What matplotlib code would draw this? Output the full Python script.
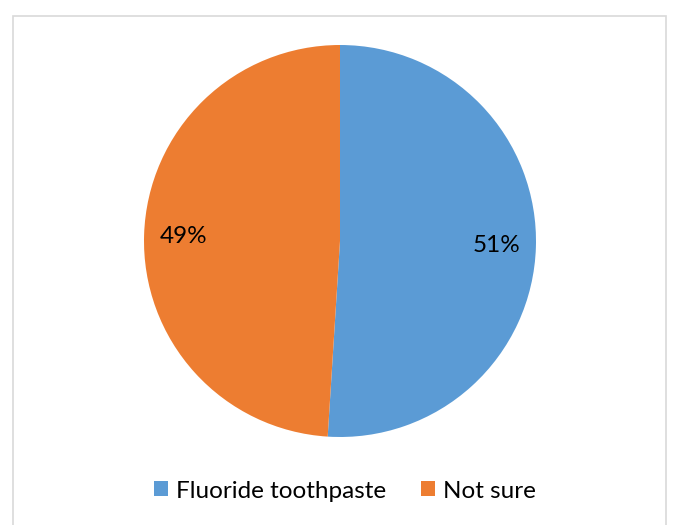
import matplotlib
matplotlib.use("Agg")
import matplotlib.pyplot as plt
from matplotlib.patches import Rectangle

# chart data
labels = ["Fluoride toothpaste", "Not sure"]
shares = [51, 49]
colors = ["#5B9BD5", "#ED7D31"]

plt.rcParams["font.family"] = ["Lato", "DejaVu Sans"]

W, H = 675, 525
fig = plt.figure(figsize=(W / 100, H / 100), dpi=100)

# light grey chart-area frame
fig.patches.append(Rectangle((13 / W, -0.01), 653 / W, 1 - 16 / H + 0.01,
                             transform=fig.transFigure, fill=False,
                             edgecolor="#D9D9D9", linewidth=1.2))

cx, cy, r = 340, 241, 196
ax = fig.add_axes([(cx - r) / W, (H - cy - r) / H, 2 * r / W, 2 * r / H])
wedges, texts, autotexts = ax.pie(
    shares, colors=colors, startangle=90, counterclock=False,
    autopct="%1.0f%%", pctdistance=0.8,
    wedgeprops=dict(linewidth=0),
    textprops=dict(fontsize=17.5, color="#000000"))
ax.set_xlim(-1, 1)
ax.set_ylim(-1, 1)
ax.set_aspect("equal")

fig.legend(wedges, labels, loc="center", bbox_to_anchor=(345 / W, 1 - 491 / H),
           ncol=2, frameon=False, fontsize=17.5, handlelength=0.58,
           handleheight=0.58, handletextpad=0.33, columnspacing=1.45)

fig.savefig("out.png", dpi=100)
